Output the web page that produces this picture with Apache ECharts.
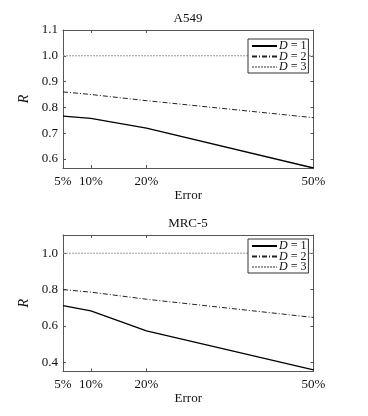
<!DOCTYPE html>
<html>
<head>
<meta charset="utf-8">
<script src="https://cdn.jsdelivr.net/npm/echarts@6/dist/echarts.min.js"></script>
<style>html,body{margin:0;padding:0;background:#fff;}#c{width:368px;height:416px;}</style>
</head>
<body>
<div id="c"></div>
<script>
// ---- data ----
var errors = [5, 10, 20, 50];
var xTicks = [5, 10, 20, 50];
var seriesNames = ['D=1', 'D=2', 'D=3'];
var a549_D1 = [0.766, 0.757, 0.720, 0.565];
var a549_D2 = [0.860, 0.850, 0.826, 0.760];
var a549_D3 = [1.0, 1.0, 1.0, 1.0];
var mrc5_D1 = [0.712, 0.683, 0.573, 0.359];
var mrc5_D2 = [0.800, 0.786, 0.747, 0.647];
var mrc5_D3 = [1.0, 1.0, 1.0, 1.0];
var yTicksTop = [0.6, 0.7, 0.8, 0.9, 1.0, 1.1];
var yTicksBottom = [0.4, 0.6, 0.8, 1.0];
var titles = ['A549', 'MRC-5'];

var FONT = '"Liberation Serif","DejaVu Serif",serif';
var TXT = '#111';
var AX = '#555';

function pairs(ys) { return errors.map(function (x, i) { return [x, ys[i]]; }); }

var styles = [
  { color: '#000', width: 1.3, type: 'solid' },
  { color: '#222', width: 1, type: [5, 2, 1, 2] },
  { color: '#999', width: 1, type: [2, 1] }
];

function xAx(gi, main) {
  return {
    type: 'value', gridIndex: gi, min: 5, max: 50,
    position: main ? 'bottom' : 'top',
    name: main ? 'Error' : '', nameLocation: 'middle', nameGap: 16,
    nameTextStyle: { fontFamily: FONT, fontSize: 13, color: TXT },
    axisLine: { show: true, lineStyle: { color: AX, width: 1 } },
    axisTick: { show: true, inside: true, length: 3, customValues: xTicks, lineStyle: { color: AX } },
    axisLabel: { show: main, customValues: xTicks, margin: 7, formatter: function (v) { return v + '%'; },
      fontFamily: FONT, fontSize: 13, color: TXT },
    splitLine: { show: false }
  };
}
function yAx(gi, main, min, max, ticks) {
  return {
    type: 'value', gridIndex: gi, min: min, max: max,
    position: main ? 'left' : 'right',
    name: main ? 'R' : '', nameLocation: 'middle', nameGap: 27,
    nameTextStyle: { fontFamily: FONT, fontSize: 14, fontStyle: 'italic', color: TXT },
    axisLine: { show: true, lineStyle: { color: AX, width: 1 } },
    axisTick: { show: true, inside: true, length: 3, customValues: ticks, lineStyle: { color: AX } },
    axisLabel: { show: main, customValues: ticks, margin: 5, formatter: function (v) { return v.toFixed(1); },
      fontFamily: FONT, fontSize: 13, color: TXT },
    splitLine: { show: false }
  };
}

var dataSets = [[a549_D1, a549_D2, a549_D3], [mrc5_D1, mrc5_D2, mrc5_D3]];
var series = [];
dataSets.forEach(function (set, gi) {
  set.forEach(function (ys, k) {
    series.push({
      type: 'line', name: seriesNames[k], xAxisIndex: gi * 2, yAxisIndex: gi * 2,
      data: pairs(ys), symbol: 'none', lineStyle: styles[k], itemStyle: { color: styles[k].color },
      z: 3 - k, animation: false, silent: true
    });
  });
});

function leg(top) {
  return {
    orient: 'vertical', left: 248, top: top, data: seriesNames,
    itemWidth: 25, itemHeight: 7, itemGap: -1.5,
    backgroundColor: '#fff', borderColor: '#333', borderWidth: 1, borderRadius: 0,
    padding: [1, 2, 0, 3],
    itemStyle: { opacity: 0 },
    formatter: function (n) { return '{i|D} = ' + n.slice(2); },
    textStyle: { fontFamily: FONT, fontSize: 12, color: TXT, lineHeight: 9.5, padding: [0, 0, 0, -3],
      rich: { i: { fontFamily: FONT, fontSize: 12, fontStyle: 'italic', color: TXT, lineHeight: 9.5 } } },
    selectedMode: false
  };
}

var chart = echarts.init(document.getElementById('c'), null, { renderer: 'canvas' });
chart.setOption({
  backgroundColor: '#fff',
  animation: false,
  title: [
    { text: titles[0], left: 188, top: 12, textAlign: 'center', padding: 0,
      textStyle: { fontFamily: FONT, fontSize: 13, fontWeight: 'normal', color: TXT } },
    { text: titles[1], left: 188, top: 217, textAlign: 'center', padding: 0,
      textStyle: { fontFamily: FONT, fontSize: 13, fontWeight: 'normal', color: TXT } }
  ],
  legend: [leg(39), leg(239)],
  grid: [
    { left: 63, top: 30, width: 250.5, height: 138 },
    { left: 63, top: 235, width: 250.5, height: 136.5 }
  ],
  xAxis: [xAx(0, true), xAx(0, false), xAx(1, true), xAx(1, false)],
  yAxis: [yAx(0, true, 0.565, 1.1, yTicksTop), yAx(0, false, 0.565, 1.1, yTicksTop),
          yAx(1, true, 0.35, 1.1, yTicksBottom), yAx(1, false, 0.35, 1.1, yTicksBottom)],
  series: series
});
</script>
</body>
</html>
